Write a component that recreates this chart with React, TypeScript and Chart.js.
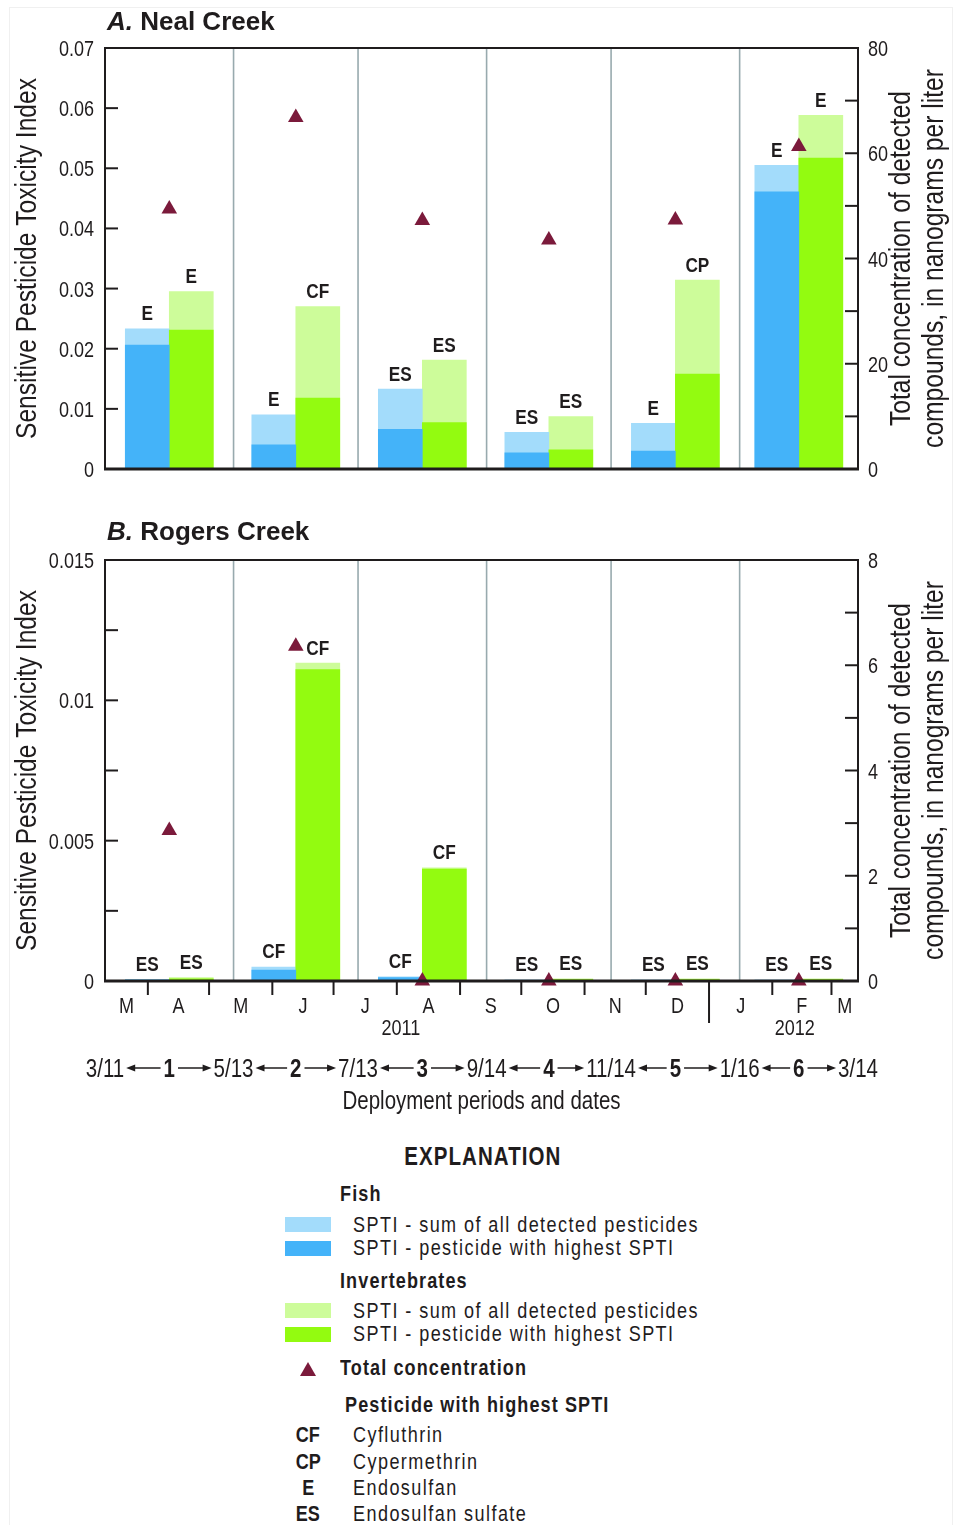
import React, { useEffect, useRef } from 'react';
import { Chart, registerables } from 'chart.js';

Chart.register(...registerables);

// ---- Deployment periods (day 0 = 3/11/2011, last day = 3/14/2012) ----
const periodEdgeDays = [0, 63, 124, 187, 248, 311, 369];
const periodEdgeDates = ['3/11', '5/13', '7/13', '9/14', '11/14', '1/16', '3/14'];
const periodNames = ['1', '2', '3', '4', '5', '6'];

// ---- Month axis ----
const monthEdgeDays = [21, 51, 82, 112, 143, 174, 204, 235, 265, 296, 327, 356];
const yearEdgeDay = 296;
const monthMidDays = [10.5, 36, 66.5, 97, 127.5, 158.5, 189, 219.5, 250, 280.5, 311.5, 341.5, 362.5];
const monthLabels = ['M', 'A', 'M', 'J', 'J', 'A', 'S', 'O', 'N', 'D', 'J', 'F', 'M'];
const yearLabelDays = [145, 338];
const yearLabels = ['2011', '2012'];

// ---- A. Neal Creek ----
const nealFishSum = [0.0233, 0.009, 0.0133, 0.0061, 0.0076, 0.0505];
const nealFishTop = [0.0206, 0.004, 0.0066, 0.0027, 0.003, 0.0461];
const nealInvSum = [0.0295, 0.027, 0.0181, 0.0087, 0.0314, 0.0588];
const nealInvTop = [0.0231, 0.0118, 0.0077, 0.0032, 0.0158, 0.0517];
const nealTotal = [49.4, 66.8, 47.2, 43.5, 47.3, 61.3];
const nealFishTags = ['E', 'E', 'ES', 'ES', 'E', 'E'];
const nealInvTags = ['E', 'CF', 'ES', 'ES', 'CP', 'E'];

// ---- B. Rogers Creek ----
const rogersFishSum = [0.00006, 0.0005, 0.00015, 0.00004, 0.00004, 0.00004];
const rogersFishTop = [0.00003, 0.00039, 0.00012, 0.00002, 0.00002, 0.00002];
const rogersInvSum = [0.00012, 0.01133, 0.00403, 0.00008, 0.00008, 0.00008];
const rogersInvTop = [0.00008, 0.0111, 0.00399, 0.00005, 0.00005, 0.00005];
const rogersTotal = [2.86, 6.36, 0, 0, 0, 0];
const rogersFishTags = ['ES', 'CF', 'CF', 'ES', 'ES', 'ES'];
const rogersInvTags = ['ES', 'CF', 'CF', 'ES', 'ES', 'ES'];

// ---- Explanation ----
const pesticideCodes = ['CF', 'CP', 'E', 'ES'];
const pesticideNames = ['Cyfluthrin', 'Cypermethrin', 'Endosulfan', 'Endosulfan sulfate'];

// ---- Styling ----
const FONT = "'Liberation Sans', Arial, sans-serif";
const SQ = 0.82; // horizontal squeeze giving a condensed face
const INK = '#1f1c1d';
const FISH_SUM = '#a3dcfb';
const FISH_TOP = '#44b3f9';
const INV_SUM = '#cdfc9a';
const INV_TOP = '#93fb10';
const TRIANGLE = '#7b1a3b';
const DIVIDER = '#98aaae';

const PAGE_W = 958;
const PLOT_LEFT = 105;
const PLOT_RIGHT = 858;
const BAR_PX = 44;

interface Panel {
  canvasTop: number;
  canvasH: number;
  plotTop: number;
  plotBottom: number;
  timeAxis: boolean;
  fishSum: number[];
  fishTop: number[];
  invSum: number[];
  invTop: number[];
  total: number[];
  fishTags: string[];
  invTags: string[];
  yMax: number;
  yStep: number;
  yLabelStep: number;
  y2Max: number;
  y2Step: number;
  y2LabelStep: number;
}

const panelA: Panel = {
  canvasTop: 0, canvasH: 490, plotTop: 48, plotBottom: 469, timeAxis: false,
  fishSum: nealFishSum, fishTop: nealFishTop, invSum: nealInvSum, invTop: nealInvTop,
  total: nealTotal, fishTags: nealFishTags, invTags: nealInvTags,
  yMax: 0.07, yStep: 0.01, yLabelStep: 0.01, y2Max: 80, y2Step: 10, y2LabelStep: 20,
};

const panelB: Panel = {
  canvasTop: 495, canvasH: 630, plotTop: 560, plotBottom: 981, timeAxis: true,
  fishSum: rogersFishSum, fishTop: rogersFishTop, invSum: rogersInvSum, invTop: rogersInvTop,
  total: rogersTotal, fishTags: rogersFishTags, invTags: rogersInvTags,
  yMax: 0.015, yStep: 0.0025, yLabelStep: 0.005, y2Max: 8, y2Step: 1, y2LabelStep: 2,
};

function isMultiple(v: number, step: number) {
  const k = v / step;
  return Math.abs(k - Math.round(k)) < 1e-6;
}

function fmt(v: number) {
  if (v === 0) return '0';
  return String(Number(v.toFixed(4)));
}

function seg(ctx: CanvasRenderingContext2D, x1: number, y1: number, x2: number, y2: number) {
  ctx.beginPath();
  ctx.moveTo(x1, y1);
  ctx.lineTo(x2, y2);
  ctx.stroke();
}

// condensed text at (x, baseline y)
function text(ctx: CanvasRenderingContext2D, s: string, x: number, y: number, align: CanvasTextAlign = 'center') {
  ctx.save();
  ctx.translate(x, y);
  ctx.scale(SQ, 1);
  ctx.textAlign = align;
  ctx.textBaseline = 'alphabetic';
  ctx.fillText(s, 0, 0);
  ctx.restore();
}

function rotatedText(ctx: CanvasRenderingContext2D, s: string, x: number, y: number) {
  ctx.save();
  ctx.translate(x, y);
  ctx.rotate(-Math.PI / 2);
  ctx.scale(SQ, 1);
  ctx.textAlign = 'center';
  ctx.textBaseline = 'alphabetic';
  ctx.fillText(s, 0, 0);
  ctx.restore();
}

function arrow(ctx: CanvasRenderingContext2D, x1: number, x2: number, y: number, headLeft: boolean) {
  const head = 9;
  const half = 3.5;
  ctx.beginPath();
  if (headLeft) {
    ctx.moveTo(x1 + head - 1, y);
    ctx.lineTo(x2, y);
  } else {
    ctx.moveTo(x1, y);
    ctx.lineTo(x2 - head + 1, y);
  }
  ctx.stroke();
  ctx.beginPath();
  if (headLeft) {
    ctx.moveTo(x1, y);
    ctx.lineTo(x1 + head, y - half);
    ctx.lineTo(x1 + head, y + half);
  } else {
    ctx.moveTo(x2, y);
    ctx.lineTo(x2 - head, y - half);
    ctx.lineTo(x2 - head, y + half);
  }
  ctx.closePath();
  ctx.fill();
}

function decorPlugin(p: Panel) {
  return {
    id: 'panelDecor',
    beforeDatasetsDraw(chart: any) {
      const { ctx, chartArea: a } = chart;
      const xs = chart.scales.x;
      ctx.save();
      ctx.strokeStyle = DIVIDER;
      ctx.lineWidth = 1.6;
      periodEdgeDays.slice(1, -1).forEach((d) => {
        const px = xs.getPixelForValue(d);
        seg(ctx, px, a.top, px, a.bottom);
      });
      ctx.restore();
    },
    afterDatasetsDraw(chart: any) {
      const { ctx, chartArea: a, scales } = chart;
      const xs = scales.x;
      ctx.save();
      ctx.strokeStyle = INK;
      ctx.fillStyle = INK;

      // plot frame
      ctx.lineWidth = 2;
      ctx.strokeRect(a.left, a.top, a.right - a.left, a.bottom - a.top);
      ctx.lineWidth = 3;
      seg(ctx, a.left - 1, a.bottom, a.right + 1, a.bottom);

      // inward tick marks and labels on both value axes
      ctx.lineWidth = 2;
      ctx.font = `22px ${FONT}`;
      scales.y.ticks.forEach((t: any) => {
        const py = scales.y.getPixelForValue(t.value);
        seg(ctx, a.left, py, a.left + 13, py);
        if (isMultiple(t.value, p.yLabelStep)) text(ctx, fmt(t.value), a.left - 11, py + 8, 'right');
      });
      scales.y2.ticks.forEach((t: any) => {
        const py = scales.y2.getPixelForValue(t.value);
        seg(ctx, a.right - 13, py, a.right, py);
        if (isMultiple(t.value, p.y2LabelStep)) text(ctx, fmt(t.value), a.right + 10, py + 8, 'left');
      });

      // pesticide tags above the bars
      ctx.font = `bold 21px ${FONT}`;
      const tagSets: [number, string[]][] = [[3, p.fishTags], [4, p.invTags]];
      tagSets.forEach(([di, tags]) => {
        chart.getDatasetMeta(di).data.forEach((el: any, i: number) => {
          text(ctx, tags[i], el.x, el.y - 8.5);
        });
      });

      // axis titles
      ctx.font = `30px ${FONT}`;
      const midY = (a.top + a.bottom) / 2;
      rotatedText(ctx, 'Sensitive Pesticide Toxicity Index', 36, midY);
      rotatedText(ctx, 'Total concentration of detected', 910, midY);
      rotatedText(ctx, 'compounds, in nanograms per liter', 943, midY);

      if (p.timeAxis) {
        // month boundaries, with a long mark at the new year
        ctx.lineWidth = 2;
        monthEdgeDays.forEach((d) => {
          const px = xs.getPixelForValue(d);
          seg(ctx, px, a.bottom, px, a.bottom + (d === yearEdgeDay ? 42 : 14));
        });
        ctx.font = `22px ${FONT}`;
        monthMidDays.forEach((d, i) => text(ctx, monthLabels[i], xs.getPixelForValue(d), a.bottom + 32));
        yearLabelDays.forEach((d, i) => text(ctx, yearLabels[i], xs.getPixelForValue(d), a.bottom + 54));

        // deployment periods row
        const rowY = a.bottom + 87;
        const dateFont = `25px ${FONT}`;
        const numFont = `bold 25px ${FONT}`;
        const edgePx = periodEdgeDays.map((d) => xs.getPixelForValue(d));
        ctx.font = dateFont;
        const dateHalf = periodEdgeDates.map((s) => (ctx.measureText(s).width * SQ) / 2);
        periodEdgeDates.forEach((s, i) => text(ctx, s, edgePx[i], rowY + 9));
        ctx.lineWidth = 1.5;
        periodNames.forEach((n, i) => {
          const cx = (edgePx[i] + edgePx[i + 1]) / 2;
          ctx.font = numFont;
          const hw = (ctx.measureText(n).width * SQ) / 2;
          text(ctx, n, cx, rowY + 9);
          arrow(ctx, edgePx[i] + dateHalf[i] + 2, cx - hw - 3, rowY, true);
          arrow(ctx, cx + hw + 3, edgePx[i + 1] - dateHalf[i + 1] - 2, rowY, false);
        });

        ctx.font = `25px ${FONT}`;
        text(ctx, 'Deployment periods and dates', (a.left + a.right) / 2, a.bottom + 128);
      }
      ctx.restore();
    },
  };
}

function buildConfig(p: Panel): any {
  const spanDays = periodEdgeDays[periodEdgeDays.length - 1];
  const mids = periodNames.map((_, i) => (periodEdgeDays[i] + periodEdgeDays[i + 1]) / 2);
  const halfBarDays = ((BAR_PX / 2) * spanDays) / (PLOT_RIGHT - PLOT_LEFT);
  const fishX = mids.map((m) => m - halfBarDays);
  const invX = mids.map((m) => m + halfBarDays);

  const bar = (xs: number[], ys: number[], color: string, order: number) => ({
    type: 'bar',
    data: ys.map((y, i) => ({ x: xs[i], y })),
    backgroundColor: color,
    borderWidth: 0,
    barThickness: BAR_PX,
    maxBarThickness: BAR_PX,
    grouped: false,
    order,
    xAxisID: 'x',
    yAxisID: 'y',
  });

  return {
    type: 'bar',
    data: {
      datasets: [
        {
          type: 'line',
          data: p.total.map((v, i) => ({ x: mids[i], y: v })),
          showLine: false,
          pointStyle: 'triangle',
          pointRadius: 9,
          pointHoverRadius: 9,
          pointBackgroundColor: TRIANGLE,
          pointBorderColor: TRIANGLE,
          pointBorderWidth: 0,
          clip: false,
          order: 0,
          xAxisID: 'x',
          yAxisID: 'y2',
        },
        bar(fishX, p.fishTop, FISH_TOP, 1),
        bar(invX, p.invTop, INV_TOP, 1),
        bar(fishX, p.fishSum, FISH_SUM, 2),
        bar(invX, p.invSum, INV_SUM, 2),
      ],
    },
    options: {
      responsive: false,
      maintainAspectRatio: false,
      devicePixelRatio: 1,
      animation: false,
      events: [],
      layout: { padding: { top: p.plotTop - p.canvasTop, bottom: 0, left: 0, right: 0 } },
      plugins: {
        legend: { display: false },
        tooltip: { enabled: false },
        title: { display: false },
      },
      scales: {
        x: {
          type: 'linear',
          position: 'bottom',
          min: 0,
          max: spanDays,
          offset: false,
          display: false,
          afterFit: (scale: any) => {
            scale.height = p.canvasTop + p.canvasH - p.plotBottom;
          },
        },
        y: {
          type: 'linear',
          position: 'left',
          min: 0,
          max: p.yMax,
          grid: { display: false },
          border: { display: false },
          afterFit: (scale: any) => {
            scale.width = PLOT_LEFT;
          },
          ticks: { stepSize: p.yStep, display: false },
        },
        y2: {
          type: 'linear',
          position: 'right',
          min: 0,
          max: p.y2Max,
          grid: { display: false },
          border: { display: false },
          afterFit: (scale: any) => {
            scale.width = PAGE_W - PLOT_RIGHT;
          },
          ticks: { stepSize: p.y2Step, display: false },
        },
      },
    },
    plugins: [decorPlugin(p)],
  };
}

const regular: React.CSSProperties = {
  fontFamily: FONT,
  fontSize: 22,
  letterSpacing: '1.75px',
  color: INK,
};
const bold: React.CSSProperties = {
  fontFamily: FONT,
  fontSize: 22,
  fontWeight: 'bold',
  letterSpacing: '1.35px',
  color: INK,
};

function Label(props: {
  x: number;
  cy: number;
  style: React.CSSProperties;
  center?: boolean;
  squeeze?: number;
  children: React.ReactNode;
}) {
  const lh = 30;
  const sq = props.squeeze ?? SQ;
  return (
    <div
      style={{
        position: 'absolute',
        left: props.center ? props.x - 200 : props.x,
        width: props.center ? 400 : undefined,
        textAlign: props.center ? 'center' : 'left',
        top: props.cy - lh / 2,
        lineHeight: `${lh}px`,
        whiteSpace: 'nowrap',
        ...props.style,
      }}
    >
      <span
        style={{
          display: 'inline-block',
          transform: `scaleX(${sq})`,
          transformOrigin: props.center ? 'center center' : 'left center',
        }}
      >
        {props.children}
      </span>
    </div>
  );
}

function Swatch(props: { y: number; h: number; color: string }) {
  return (
    <div style={{ position: 'absolute', left: 285, top: props.y, width: 46, height: props.h, background: props.color }} />
  );
}

export default function App() {
  const refA = useRef<HTMLCanvasElement>(null);
  const refB = useRef<HTMLCanvasElement>(null);

  useEffect(() => {
    const a = new Chart(refA.current as HTMLCanvasElement, buildConfig(panelA));
    const b = new Chart(refB.current as HTMLCanvasElement, buildConfig(panelB));
    return () => {
      a.destroy();
      b.destroy();
    };
  }, []);

  const titleStyle: React.CSSProperties = { fontFamily: FONT, fontSize: 26, fontWeight: 'bold', color: INK };
  const codeRows = [1435, 1461.5, 1488, 1514];

  return (
    <div style={{ position: 'absolute', left: 0, top: 0, width: PAGE_W, height: 1525, background: '#fff', overflow: 'hidden' }}>
      <div style={{ position: 'absolute', left: 9, top: 7, width: 942, height: 1560, border: '1px solid #f0f0f0' }} />
      <canvas ref={refA} width={PAGE_W} height={panelA.canvasH} style={{ position: 'absolute', left: 0, top: panelA.canvasTop }} />
      <canvas ref={refB} width={PAGE_W} height={panelB.canvasH} style={{ position: 'absolute', left: 0, top: panelB.canvasTop }} />

      <Label x={107} cy={21} squeeze={1} style={titleStyle}>
        <i>A.</i> Neal Creek
      </Label>
      <Label x={107} cy={531} squeeze={1} style={titleStyle}>
        <i>B.</i> Rogers Creek
      </Label>

      <Label x={483} cy={1156} center style={{ ...bold, fontSize: 25, letterSpacing: '1.3px' }}>
        EXPLANATION
      </Label>

      <Label x={340} cy={1194} style={bold}>Fish</Label>
      <Swatch y={1217} h={15} color={FISH_SUM} />
      <Swatch y={1241} h={15} color={FISH_TOP} />
      <Label x={353} cy={1225} style={regular}>SPTI - sum of all detected pesticides</Label>
      <Label x={353} cy={1248} style={regular}>SPTI - pesticide with highest SPTI</Label>

      <Label x={340} cy={1281} style={bold}>Invertebrates</Label>
      <Swatch y={1303} h={15} color={INV_SUM} />
      <Swatch y={1327} h={15} color={INV_TOP} />
      <Label x={353} cy={1311} style={regular}>SPTI - sum of all detected pesticides</Label>
      <Label x={353} cy={1334} style={regular}>SPTI - pesticide with highest SPTI</Label>

      <div
        style={{
          position: 'absolute',
          left: 300,
          top: 1362,
          width: 0,
          height: 0,
          borderLeft: '8px solid transparent',
          borderRight: '8px solid transparent',
          borderBottom: `14px solid ${TRIANGLE}`,
        }}
      />
      <Label x={340} cy={1368} style={bold}>Total concentration</Label>

      <Label x={345} cy={1405} style={bold}>Pesticide with highest SPTI</Label>
      {pesticideCodes.map((c, i) => (
        <React.Fragment key={c}>
          <Label x={308} cy={codeRows[i]} center style={{ ...bold, letterSpacing: '0px' }}>{c}</Label>
          <Label x={353} cy={codeRows[i]} style={regular}>{pesticideNames[i]}</Label>
        </React.Fragment>
      ))}
    </div>
  );
}
